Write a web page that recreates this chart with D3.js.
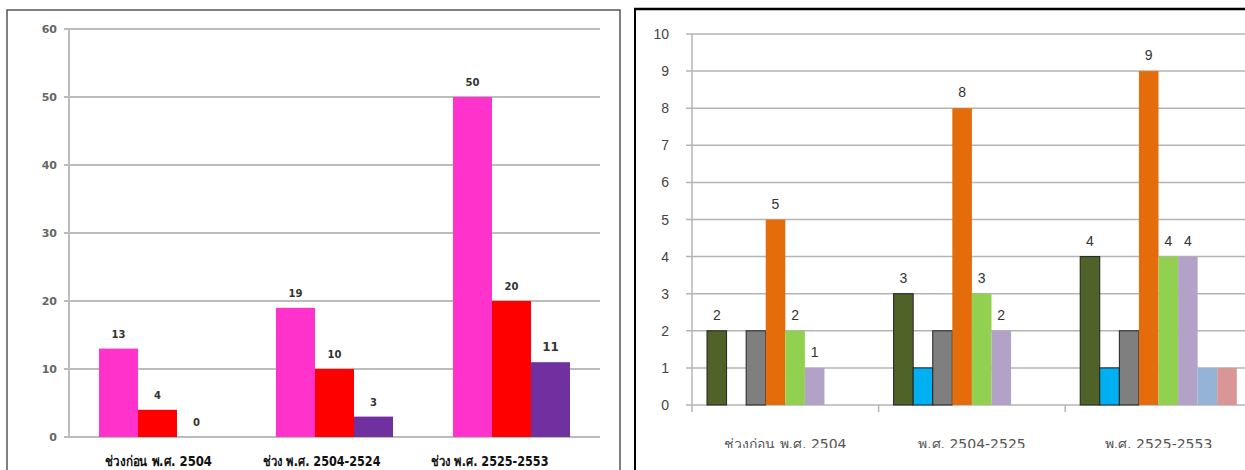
<!DOCTYPE html>
<html><head><meta charset="utf-8">
<script src="https://cdn.jsdelivr.net/npm/d3@7"></script>
<style>body{margin:0;background:#fff}svg{display:block}</style>
</head><body>
<svg id="c" width="1245" height="470"></svg>
<script>
// ---- Left chart data ----
const leftCategories = ["ช่วงก่อน พ.ศ. 2504", "ช่วง พ.ศ. 2504-2524", "ช่วง พ.ศ. 2525-2553"];
const leftSeriesA = [13, 19, 50];
const leftSeriesB = [4, 10, 20];
const leftSeriesC = [0, 3, 11];
const leftColors = ["#ff33cc", "#ff0000", "#7030a0"];
const leftTicks = [0, 10, 20, 30, 40, 50, 60];

// ---- Right chart data ----
const rightCategories = ["ช่วงก่อน พ.ศ. 2504", "พ.ศ. 2504-2525", "พ.ศ. 2525-2553"];
const rightS1 = [2, 3, 4];
const rightS2 = [0, 1, 1];
const rightS3 = [2, 2, 2];
const rightS4 = [5, 8, 9];
const rightS5 = [2, 3, 4];
const rightS6 = [1, 2, 4];
const rightS7 = [0, 0, 1];
const rightS8 = [0, 0, 1];
const rightColors = ["#4f6228", "#00b0f0", "#7f7f7f", "#e46c0a", "#92d050", "#b3a2c7", "#95b3d7", "#d99694"];
const rightLabeled = [true, false, false, true, true, true, false, false];
const rightTicks = [0,1,2,3,4,5,6,7,8,9,10];

const svg = d3.select("#c");

// ================= LEFT =================
(function(){
  const series = [leftSeriesA, leftSeriesB, leftSeriesC];
  const g = svg.append("g");
  g.append("rect").attr("x",7).attr("y",10).attr("width",613).attr("height",480)
    .attr("fill","none").attr("stroke","#555").attr("stroke-width",1.5);
  const x0 = d3.scaleBand().domain(leftCategories).range([69, 600]);
  const x1 = d3.scaleBand().domain(d3.range(series.length)).range([30, x0.bandwidth()-30]);
  const y = d3.scaleLinear().domain([0,60]).range([437, 29]);
  g.selectAll(".gl").data(leftTicks).join("line")
    .attr("x1",64).attr("x2",600).attr("y1",d=>y(d)).attr("y2",d=>y(d))
    .attr("stroke","#a6a6a6").attr("stroke-width",1.5);
  g.append("line").attr("x1",69).attr("x2",69).attr("y1",y(60)).attr("y2",y(0))
    .attr("stroke","#bdbdbd").attr("stroke-width",2);
  g.selectAll(".tl").data(leftTicks).join("text")
    .attr("x",57).attr("y",d=>y(d)+4).attr("text-anchor","end")
    .attr("font-family","DejaVu Sans, sans-serif").attr("font-weight","bold").attr("font-size",11)
    .attr("fill","#666").text(d=>d);
  const labelShift = [1, -13, -22];
  const labelWidth = [107, 118, 118];
  leftCategories.forEach((c,ci)=>{
    series.forEach((s,si)=>{
      const v = s[ci];
      g.append("rect").attr("x",x0(c)+x1(si)).attr("y",y(v))
        .attr("width",x1.bandwidth()).attr("height",y(0)-y(v)).attr("fill",leftColors[si]);
      g.append("text").attr("x",x0(c)+x1(si)+x1.bandwidth()/2).attr("y",y(v)-11)
        .attr("text-anchor","middle").attr("font-family","DejaVu Sans, sans-serif")
        .attr("font-weight","bold").attr("font-size",(ci==2&&si==2)?12:10).attr("fill","#333").text(v);
    });
    g.append("text").attr("x",x0(c)+x0.bandwidth()/2+labelShift[ci]).attr("y",466)
      .attr("text-anchor","middle").attr("font-family","Tahoma, 'DejaVu Sans', sans-serif")
      .attr("font-weight","bold").attr("font-size",14)
      .attr("textLength",labelWidth[ci]).attr("lengthAdjust","spacingAndGlyphs")
      .attr("fill","#111").text(c);
  });
})();

// ================= RIGHT =================
(function(){
  const series = [rightS1,rightS2,rightS3,rightS4,rightS5,rightS6,rightS7,rightS8];
  const g = svg.append("g");
  g.append("line").attr("x1",635).attr("x2",635).attr("y1",9).attr("y2",470).attr("stroke","#000").attr("stroke-width",2);
  g.append("line").attr("x1",634).attr("x2",1245).attr("y1",9).attr("y2",9).attr("stroke","#000").attr("stroke-width",2.5);
  const x0 = d3.scaleBand().domain(rightCategories).range([692, 692+186.6*3]);
  const x1 = d3.scaleBand().domain(d3.range(series.length)).range([15, x0.bandwidth()-15]);
  const y = d3.scaleLinear().domain([0,10]).range([405, 34]);
  g.selectAll(".gl").data(rightTicks).join("line")
    .attr("x1",686).attr("x2",1245).attr("y1",d=>y(d)).attr("y2",d=>y(d))
    .attr("stroke","#b5b5b5").attr("stroke-width",1.5);
  g.append("line").attr("x1",692).attr("x2",692).attr("y1",y(10)).attr("y2",y(0)+7)
    .attr("stroke","#b5b5b5").attr("stroke-width",1.5);
  g.selectAll(".xt").data(rightCategories.slice(1)).join("line")
    .attr("x1",d=>x0(d)).attr("x2",d=>x0(d)).attr("y1",y(0)).attr("y2",y(0)+7)
    .attr("stroke","#b5b5b5").attr("stroke-width",1.5);
  g.selectAll(".tl").data(rightTicks).join("text")
    .attr("x",669).attr("y",d=>y(d)+5).attr("text-anchor","end")
    .attr("font-family","Liberation Sans, Arial, sans-serif").attr("font-size",14)
    .attr("fill","#444").text(d=>d);
  rightCategories.forEach((c,ci)=>{
    series.forEach((s,si)=>{
      const v = s[ci];
      if (v>0) {
        const dark = si<3;
        g.append("rect").attr("x",x0(c)+x1(si)).attr("y",y(v))
          .attr("width",x1.bandwidth()).attr("height",y(0)-y(v)).attr("fill",rightColors[si])
          .attr("stroke",dark?"#222":"none").attr("stroke-width",dark?1:0);
      }
      if (rightLabeled[si] && v>0) {
        g.append("text").attr("x",x0(c)+x1(si)+x1.bandwidth()/2).attr("y",y(v)-11)
          .attr("text-anchor","middle").attr("font-family","Liberation Sans, Arial, sans-serif")
          .attr("font-size",14).attr("fill","#333").text(v);
      }
    });
  });
  svg.append("clipPath").attr("id","rc").append("rect").attr("x",640).attr("y",420).attr("width",605).attr("height",28);
  const lg = g.append("g").attr("clip-path","url(#rc)");
  rightCategories.forEach(c=>{
    lg.append("text").attr("x",x0(c)+x0.bandwidth()/2).attr("y",449)
      .attr("text-anchor","middle").attr("font-family","Tahoma, 'DejaVu Sans', sans-serif")
      .attr("font-size",14).attr("fill","#555").text(c);
  });
})();
</script>
</body></html>
